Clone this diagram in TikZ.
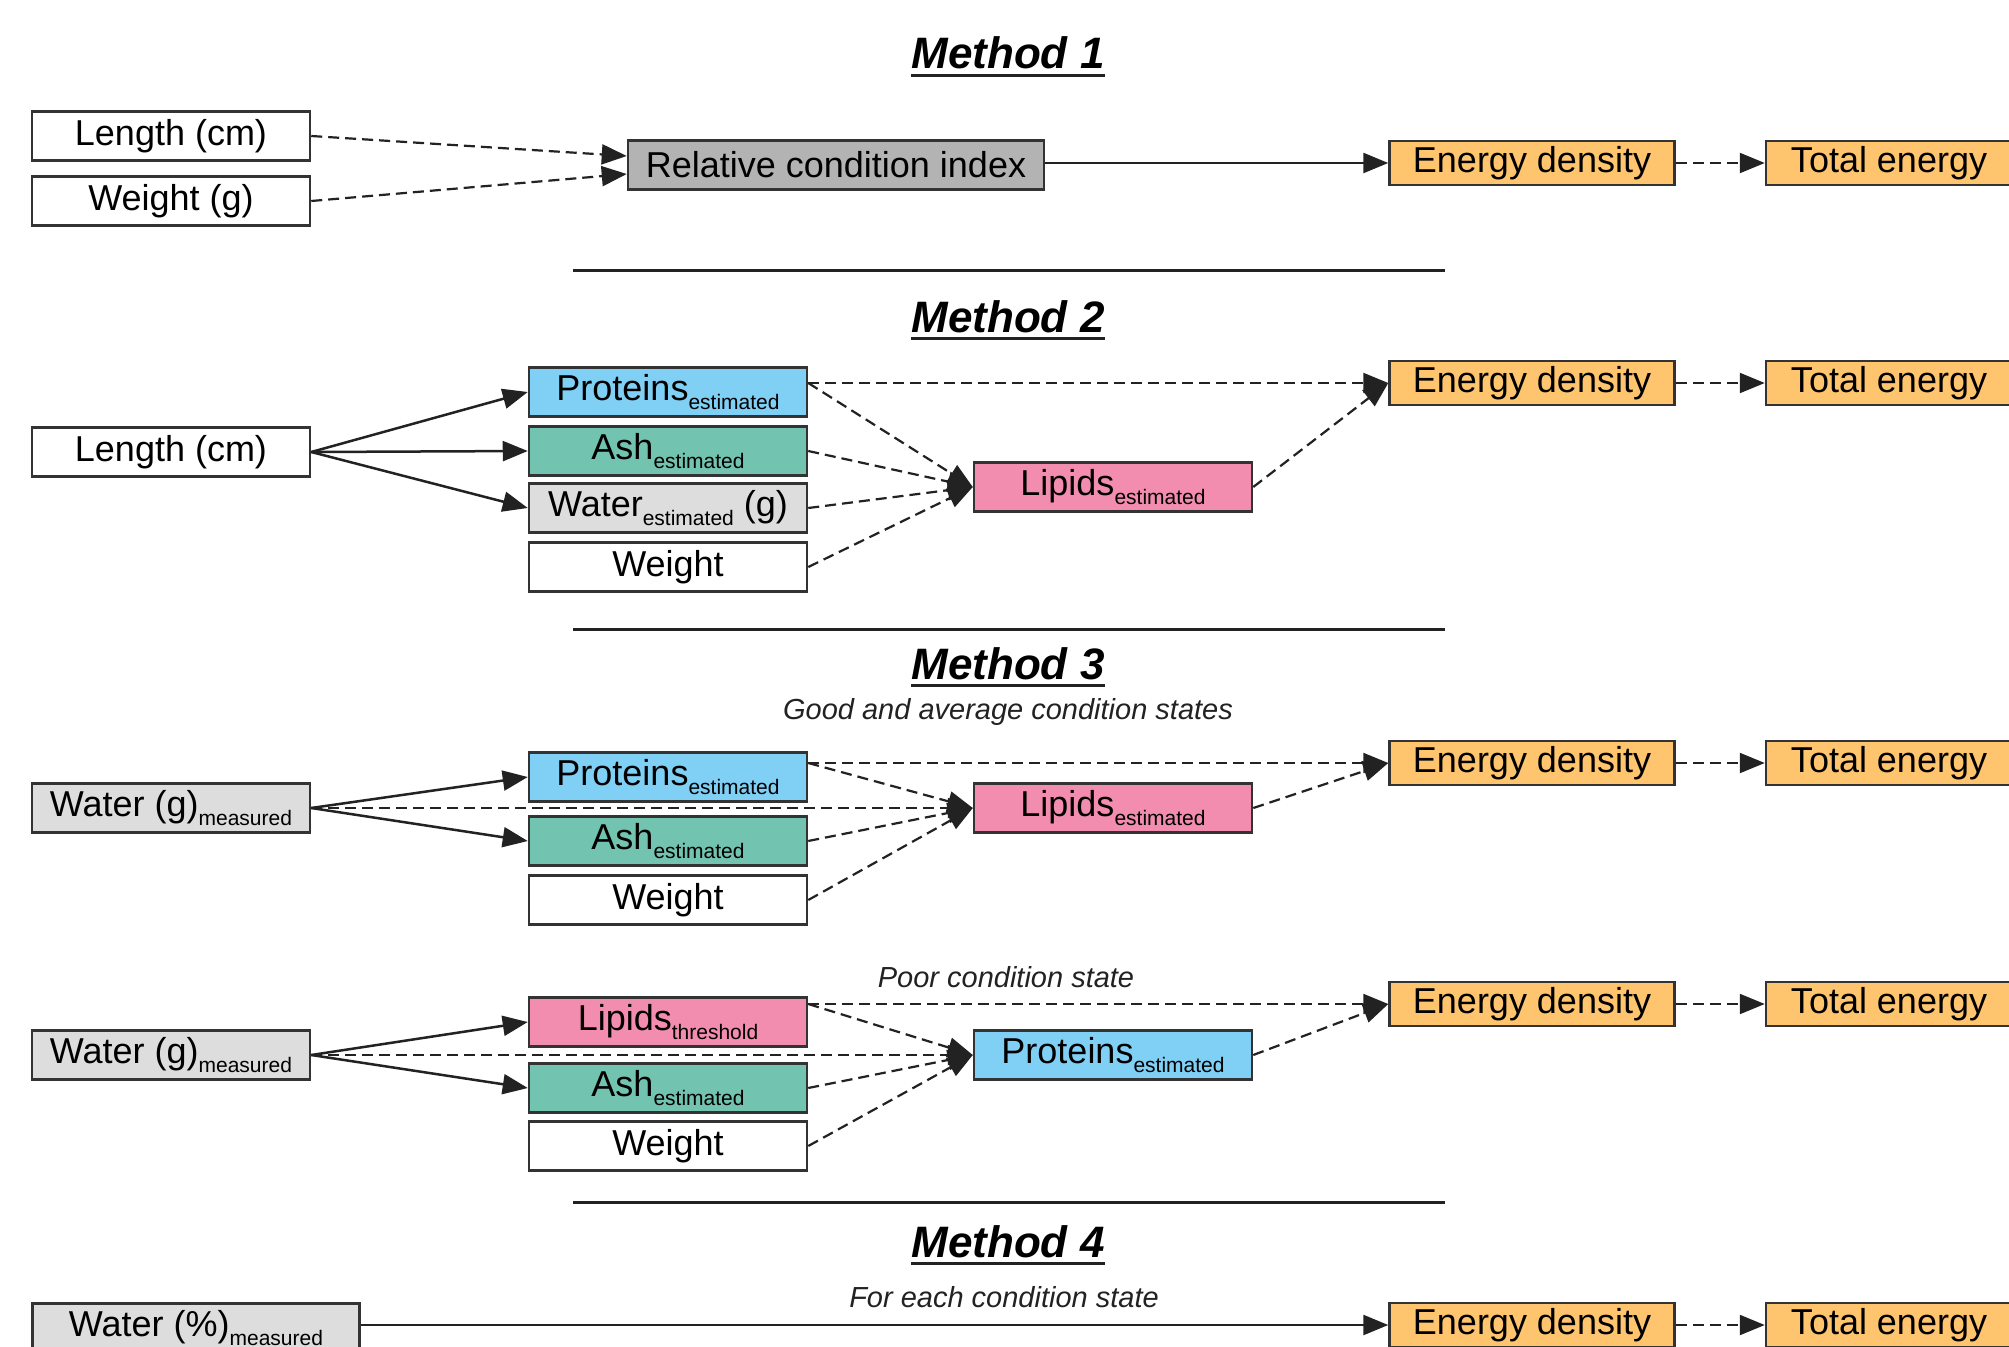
\documentclass[tikz,border=0pt]{standalone}
\usepackage{fontspec}
\setmainfont{Liberation Sans}
\usetikzlibrary{arrows.meta}
\definecolor{bdr}{HTML}{333333}
\definecolor{lnc}{HTML}{222222}
\definecolor{gryA}{HTML}{B3B3B3}
\definecolor{gryB}{HTML}{DDDDDD}
\definecolor{orng}{HTML}{FFC56E}
\definecolor{blu}{HTML}{80CFF5}
\definecolor{tea}{HTML}{72C3AF}
\definecolor{pnk}{HTML}{F38DB0}
\newcommand\subtxt[1]{\raisebox{-9pt}{\fontsize{21}{21}\selectfont #1}}
\tikzset{
  box/.style={draw=bdr, line width=2.5pt, inner sep=0pt, minimum height=49pt, minimum width=278pt, font=\fontsize{36}{40}\selectfont},
  edbox/.style={box, fill=orng, minimum width=285pt, minimum height=44pt},
  tebox/.style={box, fill=orng, minimum width=246pt, minimum height=44pt},
  sol/.style={line width=2.5pt, draw=lnc, -{Triangle[length=25pt,width=20pt]}},
  dsh/.style={sol, line width=2.2pt, dash pattern=on 11pt off 6pt},
  sepline/.style={line width=3pt, draw=lnc},
  ttl/.style={anchor=base, inner sep=0pt, font=\fontsize{44}{48}\selectfont\bfseries\itshape},
  ttlul/.style={line width=3pt, draw=lnc},
  subt/.style={anchor=base, inner sep=0pt, font=\fontsize{29}{32}\selectfont\itshape, text=lnc}
}
\begin{document}
\begin{tikzpicture}[x=1pt,y=-1pt]
\useasboundingbox[fill=white] (0,0) rectangle (2009,1346);

% ---------- Method 1
\node[ttl] (t1) at (1008,69) {Method 1};
\draw[ttlul] ([yshift=-6pt]t1.base west) -- ([yshift=-6pt]t1.base east);
\node[box] (len1) at (171,136) {Length (cm)};
\node[box] (wt1) at (171,201) {Weight (g)};
\node[box, fill=gryA, minimum width=416pt] (rci) at (836,165) {Relative condition index};
\node[edbox] (ed1) at (1532,163) {Energy density};
\node[tebox] (te1) at (1889,163) {Total energy};
\draw[dsh] (len1.east) -- ([yshift=9pt]rci.west);
\draw[dsh] (wt1.east) -- ([yshift=-9pt]rci.west);
\draw[sol] (ed1.west -| rci.east) -- (ed1.west);
\draw[dsh] (ed1.east) -- (te1.west);

\draw[sepline] (573,270) -- (1445,270);

% ---------- Method 2
\node[ttl] (t2) at (1008,332) {Method 2};
\draw[ttlul] ([yshift=-6pt]t2.base west) -- ([yshift=-6pt]t2.base east);
\node[box] (len2) at (171,452) {Length (cm)};
\node[box, fill=blu] (p2) at (668,392) {Proteins\subtxt{estimated}};
\node[box, fill=tea] (a2) at (668,451) {Ash\subtxt{estimated}};
\node[box, fill=gryB] (w2) at (668,508) {Water\subtxt{estimated} (g)};
\node[box] (g2) at (668,567) {Weight};
\node[box, fill=pnk] (l2) at (1113,487) {Lipids\subtxt{estimated}};
\node[edbox] (ed2) at (1532,383) {Energy density};
\node[tebox] (te2) at (1889,383) {Total energy};
\draw[sol] (len2.east) -- (p2.west);
\draw[sol] (len2.east) -- (a2.west);
\draw[sol] (len2.east) -- (w2.west);
\draw[dsh] (ed2.west -| p2.east) -- (ed2.west);
\draw[dsh] (ed2.west -| p2.east) -- (l2.west);
\draw[dsh] (a2.east) -- (l2.west);
\draw[dsh] (w2.east) -- (l2.west);
\draw[dsh] (g2.east) -- (l2.west);
\draw[dsh] (l2.east) -- (ed2.west);
\draw[dsh] (ed2.east) -- (te2.west);

\draw[sepline] (573,629) -- (1445,629);

% ---------- Method 3
\node[ttl] (t3) at (1008,679) {Method 3};
\draw[ttlul] ([yshift=-6pt]t3.base west) -- ([yshift=-6pt]t3.base east);
\node[subt] (s3) at (1008,719) {Good and average condition states};
\node[box, fill=gryB] (wm3) at (171,808) {Water (g)\subtxt{measured}};
\node[box, fill=blu] (p3) at (668,777) {Proteins\subtxt{estimated}};
\node[box, fill=tea] (a3) at (668,841) {Ash\subtxt{estimated}};
\node[box] (g3) at (668,900) {Weight};
\node[box, fill=pnk] (l3) at (1113,808) {Lipids\subtxt{estimated}};
\node[edbox] (ed3) at (1532,763) {Energy density};
\node[tebox] (te3) at (1889,763) {Total energy};
\draw[sol] (wm3.east) -- (p3.west);
\draw[sol] (wm3.east) -- (a3.west);
\draw[dsh] (wm3.east) -- (l3.west);
\draw[dsh] (ed3.west -| p3.east) -- (ed3.west);
\draw[dsh] (ed3.west -| p3.east) -- (l3.west);
\draw[dsh] (a3.east) -- (l3.west);
\draw[dsh] (g3.east) -- (l3.west);
\draw[dsh] (l3.east) -- (ed3.west);
\draw[dsh] (ed3.east) -- (te3.west);

% poor condition
\node[subt] (s4) at (1006,987) {Poor condition state};
\node[box, fill=gryB] (wm4) at (171,1055) {Water (g)\subtxt{measured}};
\node[box, fill=pnk] (lt4) at (668,1022) {Lipids\subtxt{threshold}};
\node[box, fill=tea] (a4) at (668,1088) {Ash\subtxt{estimated}};
\node[box] (g4) at (668,1146) {Weight};
\node[box, fill=blu] (p4) at (1113,1055) {Proteins\subtxt{estimated}};
\node[edbox] (ed4) at (1532,1004) {Energy density};
\node[tebox] (te4) at (1889,1004) {Total energy};
\draw[sol] (wm4.east) -- (lt4.west);
\draw[sol] (wm4.east) -- (a4.west);
\draw[dsh] (wm4.east) -- (p4.west);
\draw[dsh] (ed4.west -| lt4.east) -- (ed4.west);
\draw[dsh] (ed4.west -| lt4.east) -- (p4.west);
\draw[dsh] (a4.east) -- (p4.west);
\draw[dsh] (g4.east) -- (p4.west);
\draw[dsh] (p4.east) -- (ed4.west);
\draw[dsh] (ed4.east) -- (te4.west);

\draw[sepline] (573,1202) -- (1445,1202);

% ---------- Method 4
\node[ttl] (t5) at (1008,1257) {Method 4};
\draw[ttlul] ([yshift=-6pt]t5.base west) -- ([yshift=-6pt]t5.base east);
\node[subt] (s5) at (1004,1307) {For each condition state};
\node[box, fill=gryB, minimum width=327pt] (wp5) at (196,1328) {Water (\%)\subtxt{measured}};
\node[edbox] (ed5) at (1532,1325) {Energy density};
\node[tebox] (te5) at (1889,1325) {Total energy};
\draw[sol] (wp5.east |- ed5.west) -- (ed5.west);
\draw[dsh] (ed5.east) -- (te5.west);
\end{tikzpicture}
\end{document}
